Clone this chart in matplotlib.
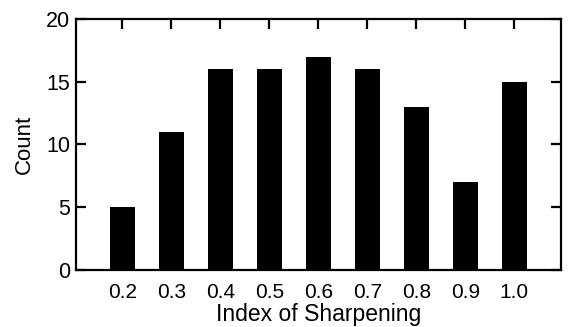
import matplotlib
matplotlib.use("Agg")
import matplotlib.pyplot as plt

plt.rcParams['font.family'] = ['Liberation Sans', 'DejaVu Sans']

sharpening_index = [0.2, 0.3, 0.4, 0.5, 0.6, 0.7, 0.8, 0.9, 1.0]
tick_labels = ['0.2', '0.3', '0.4', '0.5', '0.6', '0.7', '0.8', '0.9', '1.0']
counts = [5, 11, 16, 16, 17, 16, 13, 7, 15]

fig = plt.figure(figsize=(5.7, 3.27), dpi=100)
ax = fig.add_axes([0.1333, 0.1743, 0.8504, 0.7677])

ax.bar(sharpening_index, counts, width=0.051, color='black', edgecolor='none')

ax.set_xlim(0.105, 1.095)
ax.set_ylim(0, 20)
ax.set_xticks(sharpening_index)
ax.set_xticklabels(tick_labels)
ax.set_yticks([0, 5, 10, 15, 20])

for s in ax.spines.values():
    s.set_linewidth(1.6)

ax.tick_params(direction='in', length=7, width=1.6,
               top=True, right=True)
ax.tick_params(axis='x', labelsize=15, pad=9)
ax.tick_params(axis='y', labelsize=15.5, pad=4)

ax.set_xlabel('Index of Sharpening', fontsize=16.5, labelpad=1)
ax.set_ylabel('Count', fontsize=16, labelpad=8)

fig.savefig('out.png', dpi=100)
